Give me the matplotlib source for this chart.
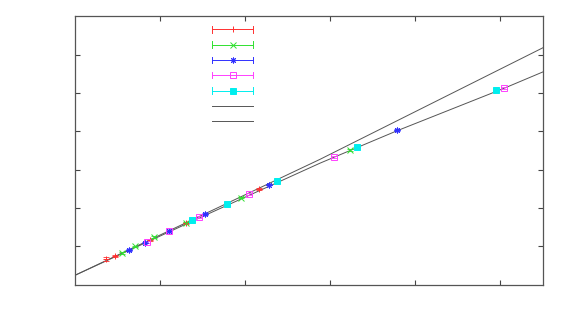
import matplotlib
matplotlib.use("Agg")
import matplotlib.pyplot as plt

# ---- data ----
red_x = [0.364, 0.47, 0.885, 1.30, 2.16]
red_y = [0.67, 0.75, 1.17, 1.61, 2.49]
red_err = [0.05, 0.02, 0.02, 0.02, 0.02]

green_x = [0.55, 0.71, 0.93, 1.30, 1.95, 3.23]
green_y = [0.83, 1.00, 1.24, 1.62, 2.27, 3.52]
green_err = [0.02, 0.02, 0.02, 0.02, 0.02, 0.02]

blue_x = [0.64, 0.82, 1.10, 1.53, 2.28, 3.78]
blue_y = [0.91, 1.10, 1.40, 1.85, 2.61, 4.03]
blue_err = [0.02, 0.02, 0.02, 0.02, 0.02, 0.02]

magenta_x = [0.85, 1.10, 1.46, 2.04, 3.05, 5.04]
magenta_y = [1.12, 1.40, 1.77, 2.36, 3.33, 5.13]
magenta_err = [0.02, 0.02, 0.02, 0.02, 0.02, 0.02]

cyan_x = [1.38, 1.79, 2.37, 3.31, 4.95]
cyan_y = [1.68, 2.11, 2.70, 3.60, 5.08]
cyan_err = [0.02, 0.02, 0.02, 0.02, 0.02]

upper_x = [0.0, 2.88, 5.5]
upper_y = [0.245, 3.27, 6.18]
lower_x = [0.0, 1.5, 2.88, 3.78, 5.04, 5.5]
lower_y = [0.245, 1.78, 3.17, 4.01, 5.12, 5.55]

x_ticks = [1, 2, 3, 4, 5]
y_ticks = [1, 2, 3, 4, 5, 6]

fig = plt.figure(figsize=(5.71, 3.34), dpi=100)
ax = fig.add_axes([0.1313, 0.1476, 0.8196, 0.8036])

ASTERISK = (8, 2, 0)
series = [
    (red_x, red_y, red_err, "#ff3030", "+", "none"),
    (green_x, green_y, green_err, "#30e030", "x", "none"),
    (blue_x, blue_y, blue_err, "#3030ff", ASTERISK, "none"),
    (magenta_x, magenta_y, magenta_err, "#ff40ff", "s", "none"),
    (cyan_x, cyan_y, cyan_err, "#00eeee", "s", "full"),
]

line_c = "#555555"
ax.plot(upper_x, upper_y, color=line_c, lw=0.7, zorder=1)
ax.plot(lower_x, lower_y, color=line_c, lw=0.7, zorder=1)

def msize(m, fill):
    if m == "s":
        return 3.8 if fill == "full" else 4.0
    return 4.2

for xs, ys, es, c, m, fill in series:
    ax.errorbar(xs, ys, yerr=es, fmt="none", ecolor=c, elinewidth=0.6,
                capsize=2, capthick=0.6, zorder=3)
    ax.plot(xs, ys, linestyle="none", marker=m, color=c, markersize=msize(m, fill),
            markeredgewidth=0.7, markerfacecolor=(c if fill == "full" else "none"), zorder=4)

# legend samples (gnuplot style key, no text)
key_y0 = 0.9516
key_dy = 0.0571
kx0, kx1, kxm = 0.293, 0.380, 0.337
for i, (xs, ys, es, c, m, fill) in enumerate(series):
    yy = key_y0 - i * key_dy
    ax.plot([kx0, kx1], [yy, yy], color=c, lw=0.7, transform=ax.transAxes, clip_on=False)
    for kx in (kx0, kx1):
        ax.plot([kx, kx], [yy - 0.012, yy + 0.012], color=c, lw=0.7, transform=ax.transAxes, clip_on=False)
    ax.plot([kxm], [yy], marker=m, color=c, markersize=msize(m, fill), markeredgewidth=0.7,
            markerfacecolor=(c if fill == "full" else "none"), transform=ax.transAxes, clip_on=False)
for j in range(2):
    yy = key_y0 - (5 + j) * key_dy
    ax.plot([kx0, kx1], [yy, yy], color=line_c, lw=0.7, transform=ax.transAxes)

ax.set_xlim(0, 5.5)
ax.set_ylim(0, 7)
ax.set_xticks(x_ticks)
ax.set_yticks(y_ticks)
ax.set_xticklabels([])
ax.set_yticklabels([])
ax.tick_params(direction="in", length=3.5, width=0.8, top=True, right=True, colors="#444444")
for s in ax.spines.values():
    s.set_color("#555555")
    s.set_linewidth(0.9)

fig.savefig("out.png", dpi=100)
